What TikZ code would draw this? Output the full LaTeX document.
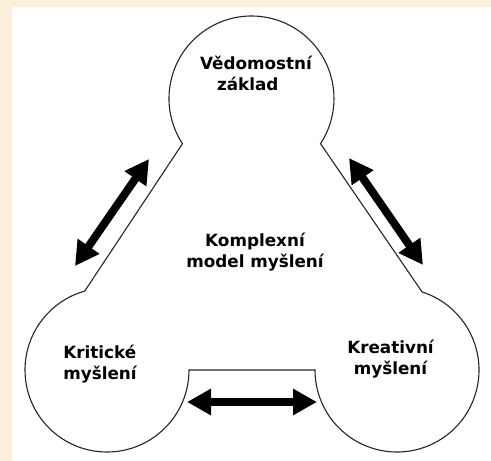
\documentclass[tikz,border=0pt]{standalone}
\usepackage{fontspec}
\setmainfont{DejaVu Sans}
\usetikzlibrary{arrows.meta,calc}
\definecolor{beige}{RGB}{252,240,220}
\tikzset{
  outline/.style={draw=black!85,line width=1.1pt,fill=white},
  bigarrow/.style={line width=8pt,{Triangle[length=24pt,width=25pt]}-{Triangle[length=24pt,width=25pt]}},
  label/.style={font=\fontsize{16.8}{21}\selectfont\bfseries,inner sep=0pt,text=black}
}
\begin{document}
\begin{tikzpicture}[x=1pt,y=1pt]
\fill[beige] (0,0) rectangle (491,-461);
\fill[white] (12,-7) rectangle (491,-461);
\useasboundingbox (0,0) rectangle (491,-461);
\coordinate (T) at (251.5,-98.5);
\coordinate (L) at (107,-370);
\coordinate (R) at (397,-370);
\coordinate (tl) at ($(T)+(213.2:82.5)$);
\coordinate (rn) at ($(R)+(72.2:82)$);
\coordinate (l0) at ($(L)+(0:82)$);
\draw[outline] (tl) arc[start angle=213.2,end angle=-33.2,radius=82.5]
  -- (rn) arc[start angle=72.2,end angle=-180,radius=82]
  -- (l0) arc[start angle=0,end angle=-254.25,radius=82] -- cycle;
\node[label,align=left] (ved) at (256,-73) {Vědomostní\\\hspace*{17pt}základ};
\node[label,align=center] (kom) at (255,-251.8) {Komplexní\\model myšlení};
\node[label,align=left] (kri) at (100,-364) {Kritické\\myšlení};
\node[label,align=center] (kre) at (390.5,-358.8) {Kreativní\\myšlení};
\coordinate (a1) at (75,-266);
\coordinate (a2) at (149,-159);
\coordinate (b1) at (349,-158);
\coordinate (b2) at (423,-265);
\coordinate (c1) at (187,-402);
\coordinate (c2) at (317,-402);
\draw[bigarrow] (a1) -- (a2);
\draw[bigarrow] (b1) -- (b2);
\draw[bigarrow] (c1) -- (c2);
\end{tikzpicture}
\end{document}
